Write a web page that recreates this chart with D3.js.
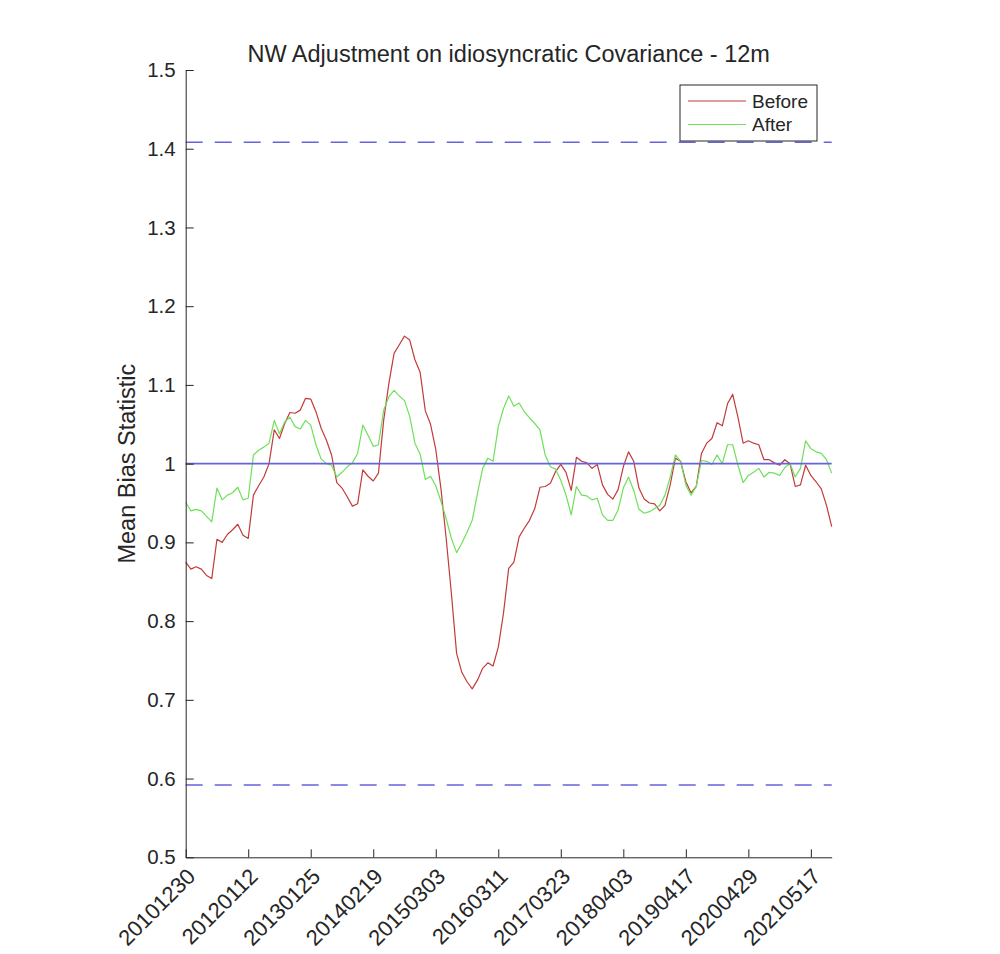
<html>
	<head>
		<title>NW Adjustment</title>
		<script type="text/javascript" src="https://d3js.org/d3.v7.min.js"></script>
		<style>
			body { margin: 0; background: #ffffff; }
			text { font-family: "Liberation Sans", Arial, Helvetica, sans-serif; fill: #262626; }
		</style>
	</head>
	<body>
		<div id="chart"></div>
		<script>
			//Mean bias statistic before NW adjustment
			var before = [
				0.875,0.866,0.869,0.866,0.858,0.854,0.904,0.900,0.910,0.916,
				0.923,0.909,0.905,0.960,0.972,0.983,1.000,1.043,1.032,1.051,
				1.065,1.064,1.068,1.083,1.082,1.066,1.045,1.030,1.011,0.976,
				0.969,0.958,0.946,0.949,0.992,0.984,0.978,0.988,1.055,1.102,
				1.140,1.151,1.162,1.157,1.132,1.116,1.067,1.050,1.018,0.968,
				0.905,0.835,0.759,0.735,0.723,0.714,0.725,0.740,0.747,0.743,
				0.767,0.810,0.867,0.875,0.907,0.918,0.928,0.943,0.970,0.971,
				0.975,0.990,0.999,0.989,0.966,1.008,1.003,1.001,0.994,0.999,
				0.973,0.961,0.955,0.967,0.996,1.015,1.003,0.969,0.955,0.950,
				0.949,0.940,0.947,0.973,1.007,1.003,0.977,0.963,0.971,1.013,
				1.026,1.032,1.052,1.048,1.076,1.088,1.059,1.026,1.029,1.026,
				1.024,1.005,1.005,1.001,0.998,1.005,1.000,0.971,0.973,0.998,
				0.985,0.977,0.968,0.947,0.920
			];

			//Mean bias statistic after NW adjustment
			var after = [
				0.951,0.940,0.942,0.940,0.933,0.926,0.969,0.954,0.960,0.963,
				0.970,0.954,0.956,1.011,1.017,1.021,1.026,1.055,1.038,1.053,
				1.059,1.047,1.044,1.055,1.049,1.024,1.006,1.000,0.998,0.983,
				0.989,0.996,1.001,1.013,1.049,1.036,1.022,1.024,1.068,1.085,
				1.093,1.086,1.080,1.060,1.026,1.012,0.980,0.984,0.972,0.952,
				0.930,0.905,0.887,0.899,0.913,0.928,0.962,0.994,1.007,1.003,
				1.047,1.070,1.086,1.073,1.077,1.066,1.058,1.051,1.043,1.011,
				0.996,0.993,0.979,0.960,0.935,0.971,0.960,0.959,0.954,0.956,
				0.935,0.928,0.928,0.941,0.969,0.983,0.966,0.942,0.937,0.939,
				0.943,0.947,0.960,0.983,1.011,1.003,0.973,0.960,0.971,1.004,
				1.003,0.999,1.011,1.000,1.024,1.024,0.998,0.976,0.985,0.989,
				0.994,0.983,0.989,0.988,0.985,0.995,1.000,0.983,0.994,1.029,
				1.019,1.015,1.013,1.005,0.988
			];

			//Reference lines: 1 and 1 +/- sqrt(2/12)
			var refSolid = [1];
			var refDashed = [1 - Math.sqrt(2/12), 1 + Math.sqrt(2/12)];

			//x tick positions (sample index) and their date labels
			var tickIndex = [0,12,24,36,48,60,72,84,96,108,120];
			var tickLabels = ["20101230","20120112","20130125","20140219","20150303","20160311",
				"20170323","20180403","20190417","20200429","20210517"];

			var yTicks = [0.5,0.6,0.7,0.8,0.9,1,1.1,1.2,1.3,1.4,1.5];

			var seriesNames = ["Before","After"];
			var seriesColors = ["#c23b3b","#6ee05a"];

			//Canvas dimensions
			var canvasWidth = 1000;
			var canvasHeight = 954;

			//Plot area
			var plotLeft = 185.7, plotRight = 831.7, plotTop = 70, plotBottom = 857.3;

			var canvas = d3.select("#chart").append("svg")
				.attr("width",canvasWidth)
				.attr("height",canvasHeight);

			var x = d3.scaleLinear().domain([0,before.length-1]).range([plotLeft,plotRight]);
			var y = d3.scaleLinear().domain([0.5,1.5]).range([plotBottom,plotTop]);

			//Data lines
			var line = d3.line()
				.x(function(d,i){ return x(i); })
				.y(function(d){ return y(d); });

			[before,after].forEach(function(s,k){
				canvas.append("path")
					.datum(s)
					.attr("d",line)
					.attr("fill","none")
					.attr("stroke",seriesColors[k])
					.attr("stroke-width",1.2)
					.attr("stroke-linejoin","round");
			});

			//Blue reference lines
			canvas.selectAll(".solidref").data(refSolid).enter().append("line")
				.attr("x1",plotLeft).attr("x2",plotRight)
				.attr("y1",function(d){ return y(d); })
				.attr("y2",function(d){ return y(d); })
				.attr("stroke","#6464dc")
				.attr("stroke-width",1.6);

			canvas.selectAll(".dashref").data(refDashed).enter().append("line")
				.attr("x1",plotLeft).attr("x2",plotRight)
				.attr("y1",function(d){ return y(d); })
				.attr("y2",function(d){ return y(d); })
				.attr("stroke","#6464dc")
				.attr("stroke-width",1.6)
				.attr("stroke-dasharray","17,12");

			//Axes (ticks point inward, no box)
			var axisBottom = canvas.append("g")
				.attr("transform","translate(0,"+plotBottom+")")
				.call(d3.axisBottom(x).tickValues(tickIndex)
					.tickFormat(function(d,i){ return tickLabels[i]; })
					.tickSizeInner(-8).tickSizeOuter(0));
			axisBottom.selectAll("text")
				.style("text-anchor","end")
				.attr("font-size","22px")
				.attr("x",0).attr("y",0).attr("dy","0.35em")
				.attr("transform","translate(5,15) rotate(-45)");

			var axisLeft = canvas.append("g")
				.attr("transform","translate("+plotLeft+",0)")
				.call(d3.axisLeft(y).tickValues(yTicks)
					.tickFormat(function(d){ return d === 1 ? "1" : d3.format(".1f")(d); })
					.tickSizeInner(-8).tickSizeOuter(0));
			axisLeft.selectAll("text")
				.attr("font-size","20.5px")
				.attr("x",-10);

			canvas.selectAll(".domain").attr("stroke","#262626");
			canvas.selectAll(".tick line").attr("stroke","#262626");
			canvas.selectAll(".tick text").attr("fill","#262626").attr("font-family","Liberation Sans, Arial, sans-serif");

			//Title and y label
			canvas.append("text")
				.text("NW Adjustment on idiosyncratic Covariance - 12m")
				.attr("x",(plotLeft+plotRight)/2)
				.attr("y",62)
				.attr("text-anchor","middle")
				.attr("font-size","23.5px");

			canvas.append("text")
				.text("Mean Bias Statistic")
				.attr("transform","translate(135,"+((plotTop+plotBottom)/2)+") rotate(-90)")
				.attr("text-anchor","middle")
				.attr("font-size","23.5px");

			//Legend
			var legend = canvas.append("g");
			legend.append("rect")
				.attr("x",680).attr("y",85)
				.attr("width",137).attr("height",56)
				.attr("fill","#ffffff")
				.attr("stroke","#262626")
				.attr("stroke-width",1);

			seriesNames.forEach(function(name,k){
				var ly = 101 + k*23.5;
				legend.append("line")
					.attr("x1",688).attr("x2",746)
					.attr("y1",ly).attr("y2",ly)
					.attr("stroke",seriesColors[k])
					.attr("stroke-width",1.2);
				legend.append("text")
					.text(name)
					.attr("x",752).attr("y",ly)
					.attr("dy","0.35em")
					.attr("font-size","19px");
			});
		</script>
	</body>
</html>
